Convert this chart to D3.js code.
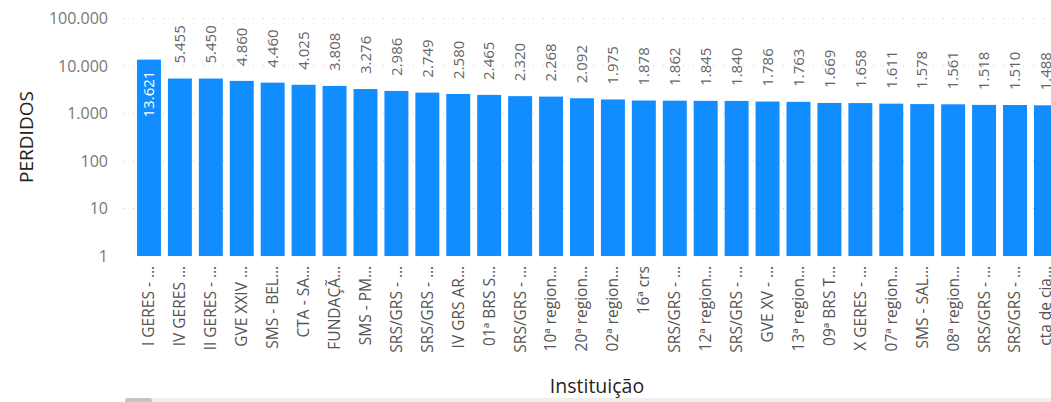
<!DOCTYPE html>
<head>
  <meta charset="utf-8">
  <script src="https://d3js.org/d3.v7.min.js"></script>
  <style>
    body { margin: 0; background: #fff; }
    svg { width: 1051px; height: 402px; display: block; font-family: "Open Sans", "Noto Sans", sans-serif; }
  </style>
</head>

<body>
  <svg></svg>

  <script>
    const width = 1051;
    const height = 402;

    // institutions (labels as truncated in the chart)
    const instituicoes = [
      'I GERES - …', 'IV GERES …', 'II GERES - …', 'GVE XXIV …', 'SMS - BEL…',
      'CTA - SA…', 'FUNDAÇÃ…', 'SMS - PM…', 'SRS/GRS - …', 'SRS/GRS - …',
      'IV GRS AR…', '01ª BRS S…', 'SRS/GRS - …', '10ª region…', '20ª region…',
      '02ª region…', '16ª crs', 'SRS/GRS - …', '12ª region…', 'SRS/GRS - …',
      'GVE XV - …', '13ª region…', '09ª BRS T…', 'X GERES - …', '07ª region…',
      'SMS - SAL…', '08ª region…', 'SRS/GRS - …', 'SRS/GRS - …', 'cta de cia…'
    ];
    const perdidos = [
      13621, 5455, 5450, 4860, 4460, 4025, 3808, 3276, 2986, 2749,
      2580, 2465, 2320, 2268, 2092, 1975, 1878, 1862, 1845, 1840,
      1786, 1763, 1669, 1658, 1611, 1578, 1561, 1518, 1510, 1488
    ];
    const yTicks = [1, 10, 100, 1000, 10000, 100000];

    const data = instituicoes.map((name, i) => ({ key: i, name: name, value: perdidos[i] }));

    const fmt = d3.format(',d');
    const ptBR = v => fmt(v).replace(/,/g, '.');

    const svg = d3.select('svg');

    /*****************************************************
    ** scales
    ******************************************************/
    const y = d3.scaleLog()
      .domain([1, 100000])
      .range([256, 18.5]);

    // band range runs past the right edge, like the scrolled visual
    const x = d3.scaleBand()
      .domain(data.map(d => d.key))
      .range([133.5, 133.5 + 30 * 30.93])
      .paddingInner(0.225)
      .paddingOuter(0.1125);

    // gridlines
    svg.append('g')
      .selectAll('line')
      .data(yTicks).enter().append('line')
      .attr('x1', 123)
      .attr('x2', width)
      .attr('y1', d => y(d))
      .attr('y2', d => y(d))
      .attr('stroke', '#c8c8c8')
      .attr('stroke-width', 1)
      .attr('stroke-dasharray', '1,9');

    // y axis tick labels
    svg.append('g')
      .selectAll('text')
      .data(yTicks).enter().append('text')
      .attr('x', 108)
      .attr('y', d => y(d))
      .attr('dy', '0.35em')
      .attr('text-anchor', 'end')
      .attr('fill', '#777')
      .style('font-size', '16px')
      .text(d => ptBR(d));

    // y axis title
    svg.append('text')
      .attr('transform', 'translate(33, 137) rotate(-90)')
      .attr('text-anchor', 'middle')
      .attr('fill', '#252423')
      .style('font-size', '19px')
      .text('PERDIDOS');

    /*****************************************************
    ** bars
    ******************************************************/
    svg.append('g')
      .selectAll('rect')
      .data(data).enter().append('rect')
      .attr('x', d => x(d.key))
      .attr('y', d => y(d.value))
      .attr('width', x.bandwidth())
      .attr('height', d => y(1) - y(d.value))
      .attr('fill', '#118DFF');

    // value labels: first one sits inside the bar in white
    svg.append('g')
      .selectAll('text')
      .data(data).enter().append('text')
      .attr('transform', (d, i) => {
        const cx = x(d.key) + x.bandwidth() / 2;
        const ty = i === 0 ? y(d.value) + 11 : y(d.value) - 15;
        return `translate(${cx}, ${ty}) rotate(-90)`;
      })
      .attr('dy', '0.35em')
      .attr('text-anchor', (d, i) => i === 0 ? 'end' : 'start')
      .attr('fill', (d, i) => i === 0 ? '#fff' : '#666')
      .style('font-size', '15px')
      .text(d => ptBR(d.value));

    // category labels
    svg.append('g')
      .selectAll('text')
      .data(data).enter().append('text')
      .attr('transform', d => `translate(${x(d.key) + x.bandwidth() / 2}, 266) rotate(-90)`)
      .attr('dy', '0.35em')
      .attr('text-anchor', 'end')
      .attr('fill', '#555')
      .style('font-size', '15.5px')
      .text(d => d.name);

    // x axis title
    svg.append('text')
      .attr('x', 597)
      .attr('y', 393)
      .attr('text-anchor', 'middle')
      .attr('fill', '#252423')
      .style('font-size', '19.5px')
      .text('Instituição');

    // scrollbar
    svg.append('rect')
      .attr('x', 125).attr('y', 398)
      .attr('width', width - 125).attr('height', 4)
      .attr('fill', '#eeeeee');
    svg.append('rect')
      .attr('x', 125).attr('y', 398)
      .attr('width', 27).attr('height', 6)
      .attr('rx', 3)
      .attr('fill', '#c4c4c4');
  </script>
</body>
